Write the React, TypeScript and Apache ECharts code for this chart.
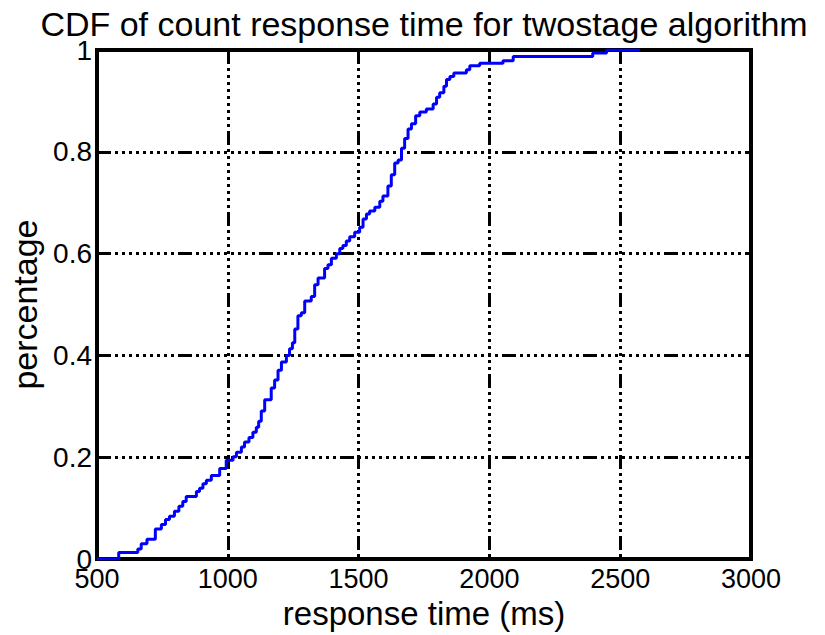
import React, { useEffect, useRef } from "react";
import * as echarts from "echarts";

const chartTitle = "CDF of count response time for twostage algorithm";
const xAxisName = "response time (ms)";
const yAxisName = "percentage";

const responseTimes = [
  500, 583, 656, 669, 691, 723, 746, 762, 777, 796, 813, 828, 841, 880, 892, 905, 918, 937, 969, 994,
  1020, 1033, 1052, 1064, 1081, 1096, 1109, 1118, 1128, 1141, 1166, 1179, 1192, 1205, 1224, 1236, 1247,
  1256, 1268, 1281, 1294, 1319, 1332, 1345, 1370, 1383, 1396, 1415, 1428, 1440, 1453, 1466, 1485, 1504,
  1517, 1530, 1542, 1562, 1581, 1593, 1612, 1625, 1638, 1651, 1664, 1676, 1689, 1702, 1718, 1734, 1759,
  1785, 1798, 1810, 1826, 1836, 1849, 1864, 1912, 1925, 1963, 2052, 2091, 2395, 2448, 2575,
];
const cdfValues = [
  0, 0.013, 0.02, 0.03, 0.039, 0.059, 0.068, 0.078, 0.084, 0.094, 0.104, 0.113, 0.123, 0.133, 0.139, 0.148,
  0.155, 0.164, 0.178, 0.194, 0.201, 0.21, 0.22, 0.23, 0.239, 0.249, 0.259, 0.271, 0.291, 0.313, 0.336,
  0.352, 0.371, 0.387, 0.4, 0.413, 0.425, 0.452, 0.478, 0.484, 0.507, 0.516, 0.539, 0.552, 0.571, 0.578,
  0.591, 0.6, 0.61, 0.616, 0.625, 0.633, 0.642, 0.652, 0.668, 0.678, 0.684, 0.691, 0.703, 0.713, 0.733,
  0.755, 0.778, 0.784, 0.807, 0.826, 0.845, 0.855, 0.871, 0.878, 0.884, 0.894, 0.907, 0.916, 0.929, 0.942,
  0.948, 0.955, 0.961, 0.969, 0.974, 0.979, 0.987, 0.994, 1, 1,
];

const xMin = 500;
const xMax = 3000;
const xStep = 500;
const yMin = 0;
const yMax = 1;
const yStep = 0.2;

const FONT = "'Liberation Sans', Arial, Helvetica, sans-serif";
const gridDash = [14, 4, 3, 4, 3, 4, 3, 4, 3, 4, 3, 4, 3, 4, 3, 4, 3, 4, 3, 4];

export default function App() {
  const ref = useRef<HTMLDivElement>(null);
  useEffect(() => {
    if (!ref.current) return;
    const chart = echarts.init(ref.current, null, { renderer: "svg" });
    const data = responseTimes.map((t, i) => [t, cdfValues[i]]);
    chart.setOption({
      animation: false,
      backgroundColor: "#ffffff",
      graphic: [
        {
          type: "text",
          x: 424,
          y: 24,
          style: {
            text: chartTitle,
            font: `34px ${FONT}`,
            fill: "#000",
            textAlign: "center",
            textVerticalAlign: "middle",
          },
        },
      ],
      grid: {
        left: 97,
        right: 74,
        top: 50,
        bottom: 68,
        show: true,
        borderColor: "#000",
        borderWidth: 4,
        backgroundColor: "#fff",
        containLabel: false,
      },
      xAxis: {
        type: "value",
        min: xMin,
        max: xMax,
        interval: xStep,
        name: xAxisName,
        nameLocation: "middle",
        nameGap: 36,
        nameTextStyle: { fontFamily: FONT, fontSize: 33, color: "#000" },
        axisLine: { show: false },
        axisTick: { show: false },
        axisLabel: {
          fontFamily: FONT,
          fontSize: 27,
          color: "#000",
          margin: 6,
          formatter: (v: number) => String(v),
        },
        splitLine: { show: true, lineStyle: { color: "#000", width: 3, type: gridDash } },
      },
      yAxis: {
        type: "value",
        min: yMin,
        max: yMax,
        interval: yStep,
        name: yAxisName,
        nameLocation: "middle",
        nameGap: 50,
        nameTextStyle: { fontFamily: FONT, fontSize: 34, color: "#000" },
        axisLine: { show: false },
        axisTick: { show: false },
        axisLabel: {
          fontFamily: FONT,
          fontSize: 28,
          color: "#000",
          margin: 5,
          formatter: (v: number) => String(Math.round(v * 10) / 10),
        },
        splitLine: { show: true, lineStyle: { color: "#000", width: 3, type: gridDash } },
      },
      series: [
        {
          type: "line",
          step: "end",
          data,
          symbol: "none",
          lineStyle: { color: "#0000ff", width: 3 },
          z: 5,
        },
      ],
    });
    return () => chart.dispose();
  }, []);
  return (
    <div
      ref={ref}
      style={{ position: "fixed", left: 0, top: 0, width: 825, height: 635, background: "#fff" }}
    />
  );
}
